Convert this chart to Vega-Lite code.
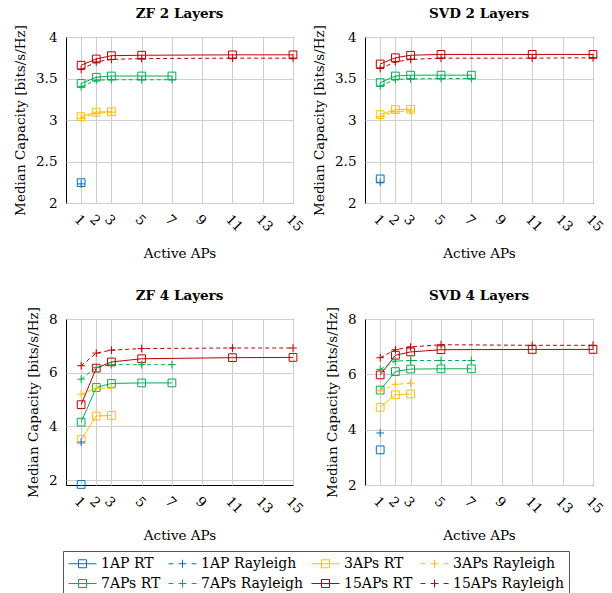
{
  "$schema": "https://vega.github.io/schema/vega-lite/v6.json",
  "padding": {"left": 13, "top": 6, "right": 0, "bottom": 0},
  "datasets": {
    "d": [
      {"p":"ZF2","s":"1AP RT","t":"RT","x":1,"y":2.245},
      {"p":"ZF2","s":"1AP Rayleigh","t":"Ra","x":1,"y":2.23},
      {"p":"ZF2","s":"3APs RT","t":"RT","x":1,"y":3.04},
      {"p":"ZF2","s":"3APs RT","t":"RT","x":2,"y":3.095},
      {"p":"ZF2","s":"3APs RT","t":"RT","x":3,"y":3.10},
      {"p":"ZF2","s":"3APs Rayleigh","t":"Ra","x":1,"y":3.02},
      {"p":"ZF2","s":"3APs Rayleigh","t":"Ra","x":2,"y":3.08},
      {"p":"ZF2","s":"3APs Rayleigh","t":"Ra","x":3,"y":3.095},
      {"p":"ZF2","s":"7APs RT","t":"RT","x":1,"y":3.44},
      {"p":"ZF2","s":"7APs RT","t":"RT","x":2,"y":3.515},
      {"p":"ZF2","s":"7APs RT","t":"RT","x":3,"y":3.53},
      {"p":"ZF2","s":"7APs RT","t":"RT","x":5,"y":3.53},
      {"p":"ZF2","s":"7APs RT","t":"RT","x":7,"y":3.53},
      {"p":"ZF2","s":"7APs Rayleigh","t":"Ra","x":1,"y":3.40},
      {"p":"ZF2","s":"7APs Rayleigh","t":"Ra","x":2,"y":3.48},
      {"p":"ZF2","s":"7APs Rayleigh","t":"Ra","x":3,"y":3.485},
      {"p":"ZF2","s":"7APs Rayleigh","t":"Ra","x":5,"y":3.485},
      {"p":"ZF2","s":"7APs Rayleigh","t":"Ra","x":7,"y":3.485},
      {"p":"ZF2","s":"15APs RT","t":"RT","x":1,"y":3.66},
      {"p":"ZF2","s":"15APs RT","t":"RT","x":2,"y":3.735},
      {"p":"ZF2","s":"15APs RT","t":"RT","x":3,"y":3.775},
      {"p":"ZF2","s":"15APs RT","t":"RT","x":5,"y":3.78},
      {"p":"ZF2","s":"15APs RT","t":"RT","x":11,"y":3.785},
      {"p":"ZF2","s":"15APs RT","t":"RT","x":15,"y":3.785},
      {"p":"ZF2","s":"15APs Rayleigh","t":"Ra","x":1,"y":3.61},
      {"p":"ZF2","s":"15APs Rayleigh","t":"Ra","x":2,"y":3.70},
      {"p":"ZF2","s":"15APs Rayleigh","t":"Ra","x":3,"y":3.73},
      {"p":"ZF2","s":"15APs Rayleigh","t":"Ra","x":5,"y":3.74},
      {"p":"ZF2","s":"15APs Rayleigh","t":"Ra","x":11,"y":3.745},
      {"p":"ZF2","s":"15APs Rayleigh","t":"Ra","x":15,"y":3.745},

      {"p":"SVD2","s":"1AP RT","t":"RT","x":1,"y":2.29},
      {"p":"SVD2","s":"1AP Rayleigh","t":"Ra","x":1,"y":2.25},
      {"p":"SVD2","s":"3APs RT","t":"RT","x":1,"y":3.065},
      {"p":"SVD2","s":"3APs RT","t":"RT","x":2,"y":3.125},
      {"p":"SVD2","s":"3APs RT","t":"RT","x":3,"y":3.13},
      {"p":"SVD2","s":"3APs Rayleigh","t":"Ra","x":1,"y":3.04},
      {"p":"SVD2","s":"3APs Rayleigh","t":"Ra","x":2,"y":3.10},
      {"p":"SVD2","s":"3APs Rayleigh","t":"Ra","x":3,"y":3.11},
      {"p":"SVD2","s":"7APs RT","t":"RT","x":1,"y":3.45},
      {"p":"SVD2","s":"7APs RT","t":"RT","x":2,"y":3.53},
      {"p":"SVD2","s":"7APs RT","t":"RT","x":3,"y":3.54},
      {"p":"SVD2","s":"7APs RT","t":"RT","x":5,"y":3.54},
      {"p":"SVD2","s":"7APs RT","t":"RT","x":7,"y":3.54},
      {"p":"SVD2","s":"7APs Rayleigh","t":"Ra","x":1,"y":3.41},
      {"p":"SVD2","s":"7APs Rayleigh","t":"Ra","x":2,"y":3.49},
      {"p":"SVD2","s":"7APs Rayleigh","t":"Ra","x":3,"y":3.495},
      {"p":"SVD2","s":"7APs Rayleigh","t":"Ra","x":5,"y":3.50},
      {"p":"SVD2","s":"7APs Rayleigh","t":"Ra","x":7,"y":3.50},
      {"p":"SVD2","s":"15APs RT","t":"RT","x":1,"y":3.675},
      {"p":"SVD2","s":"15APs RT","t":"RT","x":2,"y":3.75},
      {"p":"SVD2","s":"15APs RT","t":"RT","x":3,"y":3.78},
      {"p":"SVD2","s":"15APs RT","t":"RT","x":5,"y":3.79},
      {"p":"SVD2","s":"15APs RT","t":"RT","x":11,"y":3.79},
      {"p":"SVD2","s":"15APs RT","t":"RT","x":15,"y":3.79},
      {"p":"SVD2","s":"15APs Rayleigh","t":"Ra","x":1,"y":3.62},
      {"p":"SVD2","s":"15APs Rayleigh","t":"Ra","x":2,"y":3.70},
      {"p":"SVD2","s":"15APs Rayleigh","t":"Ra","x":3,"y":3.73},
      {"p":"SVD2","s":"15APs Rayleigh","t":"Ra","x":5,"y":3.745},
      {"p":"SVD2","s":"15APs Rayleigh","t":"Ra","x":11,"y":3.745},
      {"p":"SVD2","s":"15APs Rayleigh","t":"Ra","x":15,"y":3.75},

      {"p":"ZF4","s":"1AP RT","t":"RT","x":1,"y":1.84},
      {"p":"ZF4","s":"1AP Rayleigh","t":"Ra","x":1,"y":3.42},
      {"p":"ZF4","s":"3APs RT","t":"RT","x":1,"y":3.51},
      {"p":"ZF4","s":"3APs RT","t":"RT","x":2,"y":4.39},
      {"p":"ZF4","s":"3APs RT","t":"RT","x":3,"y":4.41},
      {"p":"ZF4","s":"3APs Rayleigh","t":"Ra","x":1,"y":5.2},
      {"p":"ZF4","s":"3APs Rayleigh","t":"Ra","x":2,"y":5.42},
      {"p":"ZF4","s":"3APs Rayleigh","t":"Ra","x":3,"y":5.43},
      {"p":"ZF4","s":"7APs RT","t":"RT","x":1,"y":4.16},
      {"p":"ZF4","s":"7APs RT","t":"RT","x":2,"y":5.45},
      {"p":"ZF4","s":"7APs RT","t":"RT","x":3,"y":5.6},
      {"p":"ZF4","s":"7APs RT","t":"RT","x":5,"y":5.62},
      {"p":"ZF4","s":"7APs RT","t":"RT","x":7,"y":5.62},
      {"p":"ZF4","s":"7APs Rayleigh","t":"Ra","x":1,"y":5.76},
      {"p":"ZF4","s":"7APs Rayleigh","t":"Ra","x":2,"y":6.2},
      {"p":"ZF4","s":"7APs Rayleigh","t":"Ra","x":3,"y":6.3},
      {"p":"ZF4","s":"7APs Rayleigh","t":"Ra","x":5,"y":6.3},
      {"p":"ZF4","s":"7APs Rayleigh","t":"Ra","x":7,"y":6.3},
      {"p":"ZF4","s":"15APs RT","t":"RT","x":1,"y":4.81},
      {"p":"ZF4","s":"15APs RT","t":"RT","x":2,"y":6.17},
      {"p":"ZF4","s":"15APs RT","t":"RT","x":3,"y":6.40},
      {"p":"ZF4","s":"15APs RT","t":"RT","x":5,"y":6.52},
      {"p":"ZF4","s":"15APs RT","t":"RT","x":11,"y":6.56},
      {"p":"ZF4","s":"15APs RT","t":"RT","x":15,"y":6.57},
      {"p":"ZF4","s":"15APs Rayleigh","t":"Ra","x":1,"y":6.26},
      {"p":"ZF4","s":"15APs Rayleigh","t":"Ra","x":2,"y":6.73},
      {"p":"ZF4","s":"15APs Rayleigh","t":"Ra","x":3,"y":6.84},
      {"p":"ZF4","s":"15APs Rayleigh","t":"Ra","x":5,"y":6.90},
      {"p":"ZF4","s":"15APs Rayleigh","t":"Ra","x":11,"y":6.92},
      {"p":"ZF4","s":"15APs Rayleigh","t":"Ra","x":15,"y":6.92},

      {"p":"SVD4","s":"1AP RT","t":"RT","x":1,"y":3.27},
      {"p":"SVD4","s":"1AP Rayleigh","t":"Ra","x":1,"y":3.88},
      {"p":"SVD4","s":"3APs RT","t":"RT","x":1,"y":4.81},
      {"p":"SVD4","s":"3APs RT","t":"RT","x":2,"y":5.26},
      {"p":"SVD4","s":"3APs RT","t":"RT","x":3,"y":5.29},
      {"p":"SVD4","s":"3APs Rayleigh","t":"Ra","x":1,"y":5.4},
      {"p":"SVD4","s":"3APs Rayleigh","t":"Ra","x":2,"y":5.64},
      {"p":"SVD4","s":"3APs Rayleigh","t":"Ra","x":3,"y":5.68},
      {"p":"SVD4","s":"7APs RT","t":"RT","x":1,"y":5.43},
      {"p":"SVD4","s":"7APs RT","t":"RT","x":2,"y":6.10},
      {"p":"SVD4","s":"7APs RT","t":"RT","x":3,"y":6.19},
      {"p":"SVD4","s":"7APs RT","t":"RT","x":5,"y":6.2},
      {"p":"SVD4","s":"7APs RT","t":"RT","x":7,"y":6.2},
      {"p":"SVD4","s":"7APs Rayleigh","t":"Ra","x":1,"y":6.18},
      {"p":"SVD4","s":"7APs Rayleigh","t":"Ra","x":2,"y":6.48},
      {"p":"SVD4","s":"7APs Rayleigh","t":"Ra","x":3,"y":6.50},
      {"p":"SVD4","s":"7APs Rayleigh","t":"Ra","x":5,"y":6.50},
      {"p":"SVD4","s":"7APs Rayleigh","t":"Ra","x":7,"y":6.50},
      {"p":"SVD4","s":"15APs RT","t":"RT","x":1,"y":5.98},
      {"p":"SVD4","s":"15APs RT","t":"RT","x":2,"y":6.69},
      {"p":"SVD4","s":"15APs RT","t":"RT","x":3,"y":6.81},
      {"p":"SVD4","s":"15APs RT","t":"RT","x":5,"y":6.89},
      {"p":"SVD4","s":"15APs RT","t":"RT","x":11,"y":6.90},
      {"p":"SVD4","s":"15APs RT","t":"RT","x":15,"y":6.90},
      {"p":"SVD4","s":"15APs Rayleigh","t":"Ra","x":1,"y":6.6},
      {"p":"SVD4","s":"15APs Rayleigh","t":"Ra","x":2,"y":6.89},
      {"p":"SVD4","s":"15APs Rayleigh","t":"Ra","x":3,"y":6.99},
      {"p":"SVD4","s":"15APs Rayleigh","t":"Ra","x":5,"y":7.07},
      {"p":"SVD4","s":"15APs Rayleigh","t":"Ra","x":11,"y":7.05},
      {"p":"SVD4","s":"15APs Rayleigh","t":"Ra","x":15,"y":7.05}
    ]
  },
  "config": {
    "font": "DejaVu Serif",
    "view": {"stroke": "#000", "strokeWidth": 1},
    "title": {"font": "DejaVu Serif", "fontSize": 13.5, "fontWeight": "bold", "color": "#000", "offset": 4, "anchor": "middle", "frame": "group"},
    "axis": {
      "labelFont": "DejaVu Serif", "labelFontSize": 13.5, "labelColor": "#000",
      "titleFont": "DejaVu Serif", "titleFontSize": 13.5, "titleFontWeight": "normal", "titleColor": "#000",
      "grid": true, "gridColor": "#cfcfcf", "gridWidth": 1,
      "ticks": false, "domain": false, "labelPadding": 9, "labelFlush": false, "labelOverlap": false
    },
    "axisX": {"labelAngle": 45, "titlePadding": 13},
    "axisY": {"titlePadding": 8, "format": "~g"},
    "legend": {"orient": "none", "legendX": -3, "legendY": 232, "columns": 4, "gridAlign": "each", "direction": "horizontal",
               "symbolSize": 196, "symbolStrokeWidth": 1, "symbolOpacity": 1, "symbolFillColor": "transparent", "labelFont": "DejaVu Serif", "labelFontSize": 14, "labelColor": "#000", "labelOffset": 18,
               "strokeColor": "#555", "padding": 5, "columnPadding": 5, "rowPadding": 5}
  },
  "resolve": {"scale": {"color": "independent", "shape": "independent"}, "legend": {"color": "independent", "shape": "independent"}},
  "bounds": "flush",
  "spacing": 282,
  "vconcat": [
    {
      "spacing": 72,
      "bounds": "flush",
      "hconcat": [
        {
          "title": "ZF 2 Layers",
          "width": 227, "height": 166,
          "data": {"name": "d"},
          "transform": [{"filter": "datum.p == 'ZF2'"}],
          "encoding": {
            "x": {"field": "x", "type": "quantitative", "scale": {"domain": [0, 15], "nice": false}, "axis": {"values": [1,2,3,5,7,9,11,13,15], "title": "Active APs"}},
            "y": {"field": "y", "type": "quantitative", "scale": {"domain": [2, 4], "nice": false, "zero": false}, "axis": {"values": [2,2.5,3,3.5,4], "title": "Median Capacity [bits/s/Hz]"}},
            "stroke": {"field": "s", "type": "nominal", "scale": {"domain": ["1AP RT","1AP Rayleigh","3APs RT","3APs Rayleigh","7APs RT","7APs Rayleigh","15APs RT","15APs Rayleigh"], "range": ["#0070C0","#0070C0","#FFC000","#FFC000","#00B050","#00B050","#C00000","#C00000"]}, "legend": null}
          },
          "layer": [
            {"transform": [{"filter": "datum.t == 'RT'"}], "mark": {"type": "line", "strokeWidth": 1}},
            {"transform": [{"filter": "datum.t == 'Ra'"}], "mark": {"type": "line", "strokeWidth": 1, "strokeDash": [4, 3]}},
            {"transform": [{"filter": "datum.t == 'RT'"}], "mark": {"type": "point", "shape": "square", "filled": false, "size": 60, "strokeWidth": 1, "opacity": 1}},
            {"transform": [{"filter": "datum.t == 'Ra'"}], "mark": {"type": "point", "shape": "M0,-1V1M-1,0H1", "filled": false, "size": 60, "strokeWidth": 1, "opacity": 1}}
          ]
        },
        {
          "title": "SVD 2 Layers",
          "width": 228, "height": 166,
          "data": {"name": "d"},
          "transform": [{"filter": "datum.p == 'SVD2'"}],
          "encoding": {
            "x": {"field": "x", "type": "quantitative", "scale": {"domain": [0, 15], "nice": false}, "axis": {"values": [1,2,3,5,7,9,11,13,15], "title": "Active APs"}},
            "y": {"field": "y", "type": "quantitative", "scale": {"domain": [2, 4], "nice": false, "zero": false}, "axis": {"values": [2,2.5,3,3.5,4], "title": "Median Capacity [bits/s/Hz]"}},
            "stroke": {"field": "s", "type": "nominal", "scale": {"domain": ["1AP RT","1AP Rayleigh","3APs RT","3APs Rayleigh","7APs RT","7APs Rayleigh","15APs RT","15APs Rayleigh"], "range": ["#0070C0","#0070C0","#FFC000","#FFC000","#00B050","#00B050","#C00000","#C00000"]}, "legend": null}
          },
          "layer": [
            {"transform": [{"filter": "datum.t == 'RT'"}], "mark": {"type": "line", "strokeWidth": 1}},
            {"transform": [{"filter": "datum.t == 'Ra'"}], "mark": {"type": "line", "strokeWidth": 1, "strokeDash": [4, 3]}},
            {"transform": [{"filter": "datum.t == 'RT'"}], "mark": {"type": "point", "shape": "square", "filled": false, "size": 60, "strokeWidth": 1, "opacity": 1}},
            {"transform": [{"filter": "datum.t == 'Ra'"}], "mark": {"type": "point", "shape": "M0,-1V1M-1,0H1", "filled": false, "size": 60, "strokeWidth": 1, "opacity": 1}}
          ]
        }
      ]
    },
    {
      "spacing": 72,
      "bounds": "flush",
      "resolve": {"scale": {"color": "independent", "shape": "independent"}, "legend": {"color": "independent", "shape": "independent"}},
      "hconcat": [
        {
          "title": "ZF 4 Layers",
          "width": 227, "height": 166,
          "data": {"name": "d"},
          "transform": [{"filter": "datum.p == 'ZF4'"}],
          "encoding": {
            "x": {"field": "x", "type": "quantitative", "scale": {"domain": [0, 15], "nice": false}, "axis": {"values": [1,2,3,5,7,9,11,13,15], "title": "Active APs"}},
            "y": {"field": "y", "type": "quantitative", "scale": {"domain": [1.82, 8], "nice": false, "zero": false}, "axis": {"values": [2,4,6,8], "title": "Median Capacity [bits/s/Hz]"}}
          },
          "layer": [
            {"transform": [{"filter": "datum.t == 'RT'"}], "mark": {"type": "line", "strokeWidth": 1},
             "encoding": {"stroke": {"field": "s", "type": "nominal", "scale": {"domain": ["1AP RT","1AP Rayleigh","3APs RT","3APs Rayleigh","7APs RT","7APs Rayleigh","15APs RT","15APs Rayleigh"], "range": ["#0070C0","#0070C0","#FFC000","#FFC000","#00B050","#00B050","#C00000","#C00000"]}, "legend": null}}},
            {"transform": [{"filter": "datum.t == 'Ra'"}], "mark": {"type": "line", "strokeWidth": 1, "strokeDash": [4, 3]},
             "encoding": {"stroke": {"field": "s", "type": "nominal", "legend": null}}},
            {"transform": [{"filter": "datum.t == 'RT'"}], "mark": {"type": "point", "shape": "square", "filled": false, "size": 60, "strokeWidth": 1, "opacity": 1},
             "encoding": {"stroke": {"field": "s", "type": "nominal", "legend": null}}},
            {"transform": [{"filter": "datum.t == 'Ra'"}], "mark": {"type": "point", "shape": "M0,-1V1M-1,0H1", "filled": false, "size": 60, "strokeWidth": 1, "opacity": 1},
             "encoding": {"stroke": {"field": "s", "type": "nominal", "legend": null}}},
            {
              "mark": {"type": "point", "filled": false, "strokeWidth": 1, "opacity": 0},
              "encoding": {
                "shape": {"field": "s", "type": "nominal",
                  "scale": {"domain": ["1AP RT","1AP Rayleigh","3APs RT","3APs Rayleigh","7APs RT","7APs Rayleigh","15APs RT","15APs Rayleigh"],
                            "range": ["M-1,0H3M0.43,-0.57H1.57V0.57H0.43Z","M-1,0H-0.3M2.3,0H3M0.43,0H1.57M1,-0.57V0.57","M-1,0H3M0.43,-0.57H1.57V0.57H0.43Z","M-1,0H-0.3M2.3,0H3M0.43,0H1.57M1,-0.57V0.57","M-1,0H3M0.43,-0.57H1.57V0.57H0.43Z","M-1,0H-0.3M2.3,0H3M0.43,0H1.57M1,-0.57V0.57","M-1,0H3M0.43,-0.57H1.57V0.57H0.43Z","M-1,0H-0.3M2.3,0H3M0.43,0H1.57M1,-0.57V0.57"]},
                  "legend": {"title": null}},
                "color": {"field": "s", "type": "nominal",
                  "scale": {"domain": ["1AP RT","1AP Rayleigh","3APs RT","3APs Rayleigh","7APs RT","7APs Rayleigh","15APs RT","15APs Rayleigh"], "range": ["#0070C0","#0070C0","#FFC000","#FFC000","#00B050","#00B050","#C00000","#C00000"]},
                  "legend": {"title": null}}
              }
            }
          ]
        },
        {
          "title": "SVD 4 Layers",
          "width": 228, "height": 166,
          "data": {"name": "d"},
          "transform": [{"filter": "datum.p == 'SVD4'"}],
          "encoding": {
            "x": {"field": "x", "type": "quantitative", "scale": {"domain": [0, 15], "nice": false}, "axis": {"values": [1,2,3,5,7,9,11,13,15], "title": "Active APs"}},
            "y": {"field": "y", "type": "quantitative", "scale": {"domain": [2, 8], "nice": false, "zero": false}, "axis": {"values": [2,4,6,8], "title": "Median Capacity [bits/s/Hz]"}},
            "stroke": {"field": "s", "type": "nominal", "scale": {"domain": ["1AP RT","1AP Rayleigh","3APs RT","3APs Rayleigh","7APs RT","7APs Rayleigh","15APs RT","15APs Rayleigh"], "range": ["#0070C0","#0070C0","#FFC000","#FFC000","#00B050","#00B050","#C00000","#C00000"]}, "legend": null}
          },
          "layer": [
            {"transform": [{"filter": "datum.t == 'RT'"}], "mark": {"type": "line", "strokeWidth": 1}},
            {"transform": [{"filter": "datum.t == 'Ra'"}], "mark": {"type": "line", "strokeWidth": 1, "strokeDash": [4, 3]}},
            {"transform": [{"filter": "datum.t == 'RT'"}], "mark": {"type": "point", "shape": "square", "filled": false, "size": 60, "strokeWidth": 1, "opacity": 1}},
            {"transform": [{"filter": "datum.t == 'Ra'"}], "mark": {"type": "point", "shape": "M0,-1V1M-1,0H1", "filled": false, "size": 60, "strokeWidth": 1, "opacity": 1}}
          ]
        }
      ]
    }
  ]
}
